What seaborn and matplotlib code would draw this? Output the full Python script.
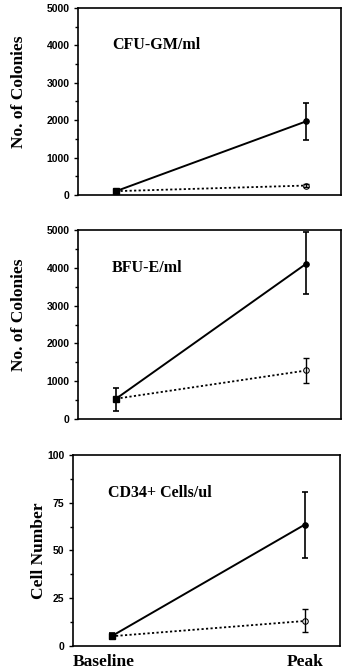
import numpy as np
import pandas as pd
import seaborn as sns
import matplotlib.pyplot as plt
from matplotlib.ticker import MultipleLocator

# data
timepoints = ["Baseline", "Peak"]

cfu_solid = [100, 1970]
cfu_solid_err = [[0, 510], [0, 490]]
cfu_dotted = [100, 250]
cfu_dotted_err = [[0, 40], [0, 40]]

bfu_solid = [530, 4120]
bfu_solid_err = [[330, 820], [290, 830]]
bfu_dotted = [530, 1280]
bfu_dotted_err = [[0, 340], [0, 320]]

cd34_solid = [5, 63.5]
cd34_solid_err = [[1.5, 17.5], [1.5, 17]]
cd34_dotted = [5, 13]
cd34_dotted_err = [[0, 6], [0, 6.5]]

panel_titles = ["CFU-GM/ml", "BFU-E/ml", "CD34+ Cells/ul"]
panel_ylabels = ["No. of Colonies", "No. of Colonies", "Cell Number"]

sns.set_style("ticks", {"axes.edgecolor": "black", "text.color": "black",
                        "xtick.color": "black", "ytick.color": "black",
                        "axes.labelcolor": "black"})
plt.rcParams["font.family"] = ["Liberation Serif", "DejaVu Serif"]

SERIF = "Liberation Serif"
SANS = "Liberation Sans"

fig = plt.figure(figsize=(3.42, 6.72), dpi=100)
positions = [
    [0.228, 0.710, 0.768, 0.278],
    [0.228, 0.377, 0.768, 0.280],
    [0.213, 0.039, 0.780, 0.284],
]

panels = [
    (cfu_solid, cfu_solid_err, cfu_dotted, cfu_dotted_err, 5000, 1000, 500),
    (bfu_solid, bfu_solid_err, bfu_dotted, bfu_dotted_err, 5000, 1000, 500),
    (cd34_solid, cd34_solid_err, cd34_dotted, cd34_dotted_err, 100, 25, 12.5),
]
label_coords = [(-0.195, 0.55), (-0.195, 0.55), (-0.097, 0.50)]

for i, (solid, solid_err, dotted, dotted_err, ymax, major, minor) in enumerate(panels):
    ax = fig.add_axes(positions[i])
    x = [0, 1]
    df = pd.DataFrame({
        "x": x + x,
        "y": solid + dotted,
        "group": ["solid"] * 2 + ["dotted"] * 2,
    })
    sns.lineplot(data=df[df.group == "solid"], x="x", y="y", ax=ax,
                 color="black", lw=1.4, marker="o", markersize=4,
                 markeredgecolor="black", markerfacecolor="black")
    sns.lineplot(data=df[df.group == "dotted"], x="x", y="y", ax=ax,
                 color="black", lw=1.3, linestyle=(0, (1.2, 1.3)),
                 marker="o", markersize=4, markeredgecolor="black",
                 markerfacecolor="white")
    ax.errorbar(x, solid, yerr=solid_err, fmt="none", ecolor="black",
                elinewidth=1.2, capsize=2.5, capthick=1.2)
    ax.errorbar(x, dotted, yerr=dotted_err, fmt="none", ecolor="black",
                elinewidth=1.0, capsize=2.5, capthick=1.0)
    # baseline markers overlap into a solid square
    ax.plot([0], [solid[0]], marker="s", color="black", markersize=4.5)

    ax.set_xlim(-0.2, 1.18)
    ax.set_ylim(0, ymax)
    ax.yaxis.set_major_locator(MultipleLocator(major))
    ax.yaxis.set_minor_locator(MultipleLocator(minor))
    ax.tick_params(axis="y", which="major", length=3, width=1,
                   labelsize=7.5, pad=3)
    ax.tick_params(axis="y", which="minor", length=2, width=1)
    for lab in ax.get_yticklabels():
        lab.set_fontfamily(SANS)
        lab.set_fontweight("bold")
    for sp in ax.spines.values():
        sp.set_linewidth(1.2)
        sp.set_visible(True)

    if i == 2:
        ax.set_xticks([-0.04, 1])
        ax.set_xticklabels(timepoints, fontfamily=SERIF, fontweight="bold",
                           fontsize=12.5)
        ax.tick_params(axis="x", length=0, pad=6)
    else:
        ax.set_xticks([])
    ax.set_xlabel("")
    ax.set_ylabel(panel_ylabels[i], fontfamily=SERIF, fontweight="bold",
                  fontsize=12.5)
    ax.yaxis.set_label_coords(*label_coords[i])
    ax.text(0.13, 0.80, panel_titles[i], transform=ax.transAxes,
            fontfamily=SERIF, fontweight="bold", fontsize=11.5,
            va="center", ha="left")
    if ax.get_legend() is not None:
        ax.get_legend().remove()

fig.savefig("out.png", dpi=100)
